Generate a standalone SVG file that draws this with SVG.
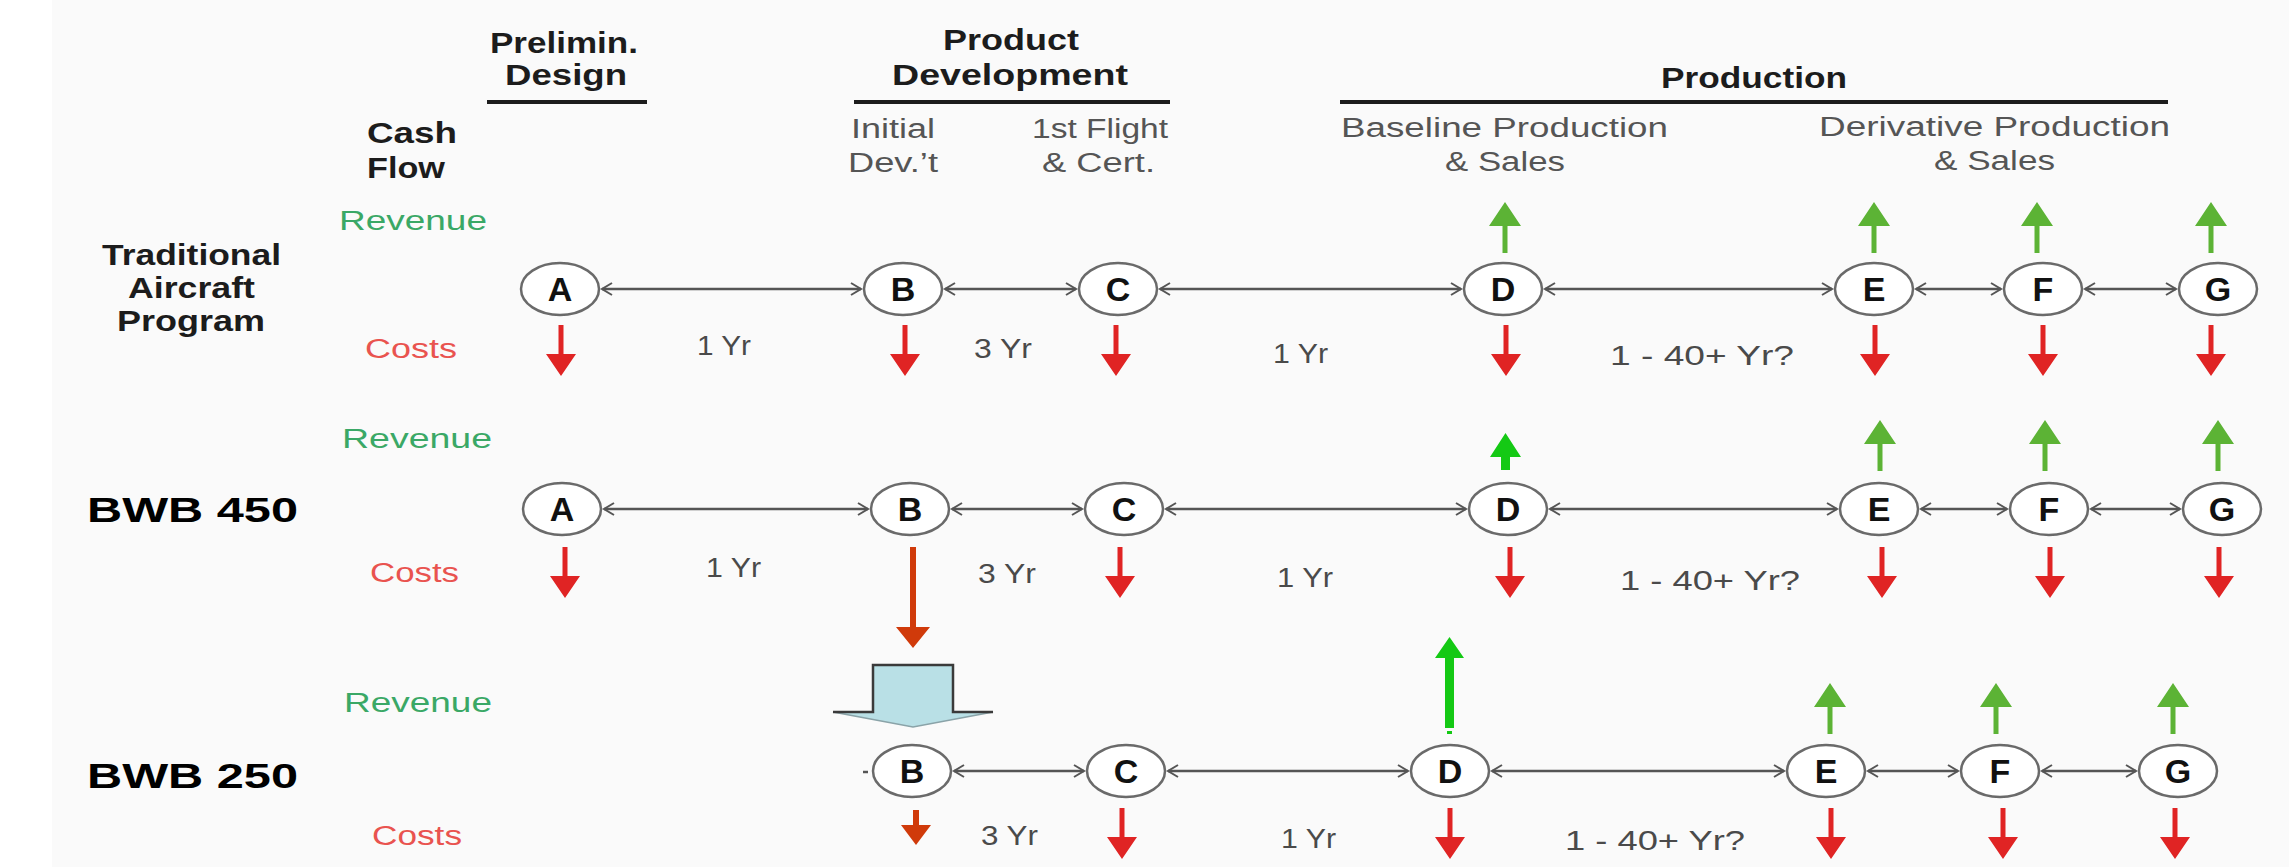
<svg xmlns="http://www.w3.org/2000/svg" width="2289" height="867" viewBox="0 0 2289 867">
  <style>
    text { font-family: "Liberation Sans", Arial, sans-serif; }
    .hd { font-weight: bold; font-size: 29px; fill: #1c1c1c; }
    .sub { font-size: 27px; fill: #555; }
    .rev { font-size: 27px; fill: #3aa866; }
    .cost { font-size: 27px; fill: #e9534f; }
    .yr { font-size: 27px; fill: #4a4a4a; }
    .bwb { font-weight: bold; font-size: 35px; fill: #000; }
    .node ellipse { fill: #fff; stroke: #6a6a6a; stroke-width: 2.5; }
    .node text { font-weight: bold; font-size: 34px; fill: #111; text-anchor: middle; }
    .conn line { stroke: #555; stroke-width: 2.5; marker-start: url(#chev); marker-end: url(#chev); }
    .rule { stroke: #1c1c1c; stroke-width: 4; }
    .down { fill: #e02424; }
    .downo { fill: #d03a0a; }
    .up { fill: #5cb335; }
    .upb { fill: #14c914; }
  </style>
  <defs>
    <marker id="chev" markerUnits="userSpaceOnUse" markerWidth="16" markerHeight="16" refX="12" refY="8" orient="auto-start-reverse">
      <path d="M2,2 L12,8 L2,14" fill="none" stroke="#555" stroke-width="2"/>
    </marker>
    <path id="dn" d="M-2.5 0H2.5V29H15L0 51L-15 29H-2.5Z"/>
    <path id="up" d="M-2.5 51H2.5V24H16L0 0L-16 24H-2.5Z"/>
  </defs>

  <rect width="2289" height="867" fill="#fff"/>
  <rect x="52" y="0" width="2237" height="867" fill="#fafafa"/>

  <!-- phase headings -->
  <g id="phases">
    <text class="hd" x="490" y="53" textLength="148" lengthAdjust="spacingAndGlyphs">Prelimin.</text>
    <text class="hd" x="505" y="85" textLength="122" lengthAdjust="spacingAndGlyphs">Design</text>
    <line class="rule" x1="487" y1="102" x2="647" y2="102"/>
    <text class="hd" x="943" y="50" textLength="136" lengthAdjust="spacingAndGlyphs">Product</text>
    <text class="hd" x="892" y="85" textLength="236" lengthAdjust="spacingAndGlyphs">Development</text>
    <line class="rule" x1="854" y1="102" x2="1170" y2="102"/>
    <text class="hd" x="1661" y="88" textLength="186" lengthAdjust="spacingAndGlyphs">Production</text>
    <line class="rule" x1="1340" y1="102" x2="2168" y2="102"/>
    <text class="sub" x="851" y="138" textLength="84" lengthAdjust="spacingAndGlyphs">Initial</text>
    <text class="sub" x="848" y="172" textLength="90" lengthAdjust="spacingAndGlyphs">Dev.’t</text>
    <text class="sub" x="1032" y="138" textLength="136" lengthAdjust="spacingAndGlyphs">1st Flight</text>
    <text class="sub" x="1042" y="172" textLength="113" lengthAdjust="spacingAndGlyphs">&amp; Cert.</text>
    <text class="sub" x="1341" y="137" textLength="327" lengthAdjust="spacingAndGlyphs">Baseline Production</text>
    <text class="sub" x="1445" y="171" textLength="120" lengthAdjust="spacingAndGlyphs">&amp; Sales</text>
    <text class="sub" x="1819" y="136" textLength="351" lengthAdjust="spacingAndGlyphs">Derivative Production</text>
    <text class="sub" x="1934" y="170" textLength="121" lengthAdjust="spacingAndGlyphs">&amp; Sales</text>
  </g>

  <!-- row titles and cash-flow labels -->
  <g id="labels">
    <text class="hd" x="367" y="143" textLength="90" lengthAdjust="spacingAndGlyphs">Cash</text>
    <text class="hd" x="367" y="178" textLength="78" lengthAdjust="spacingAndGlyphs">Flow</text>
    <text class="hd" x="102" y="265" textLength="179" lengthAdjust="spacingAndGlyphs" font-size="27">Traditional</text>
    <text class="hd" x="128" y="298" textLength="127" lengthAdjust="spacingAndGlyphs" font-size="27">Aircraft</text>
    <text class="hd" x="117" y="331" textLength="148" lengthAdjust="spacingAndGlyphs" font-size="27">Program</text>
    <text class="bwb" x="87" y="522" textLength="211" lengthAdjust="spacingAndGlyphs">BWB 450</text>
    <text class="bwb" x="87" y="788" textLength="211" lengthAdjust="spacingAndGlyphs">BWB 250</text>
    <text class="rev" x="339" y="230" textLength="148" lengthAdjust="spacingAndGlyphs">Revenue</text>
    <text class="rev" x="342" y="448" textLength="150" lengthAdjust="spacingAndGlyphs">Revenue</text>
    <text class="rev" x="344" y="712" textLength="148" lengthAdjust="spacingAndGlyphs">Revenue</text>
    <text class="cost" x="365" y="358" textLength="92" lengthAdjust="spacingAndGlyphs">Costs</text>
    <text class="cost" x="370" y="582" textLength="89" lengthAdjust="spacingAndGlyphs">Costs</text>
    <text class="cost" x="372" y="845" textLength="90" lengthAdjust="spacingAndGlyphs">Costs</text>
  </g>

  <!-- durations between milestones -->
  <g id="durations">
    <text class="yr" x="697" y="355" textLength="54" lengthAdjust="spacingAndGlyphs">1 Yr</text>
    <text class="yr" x="974" y="358" textLength="58" lengthAdjust="spacingAndGlyphs">3 Yr</text>
    <text class="yr" x="1273" y="363" textLength="55" lengthAdjust="spacingAndGlyphs">1 Yr</text>
    <text class="yr" x="1610" y="365" textLength="184" lengthAdjust="spacingAndGlyphs">1 - 40+ Yr?</text>
    <text class="yr" x="706" y="577" textLength="55" lengthAdjust="spacingAndGlyphs">1 Yr</text>
    <text class="yr" x="978" y="583" textLength="58" lengthAdjust="spacingAndGlyphs">3 Yr</text>
    <text class="yr" x="1277" y="587" textLength="56" lengthAdjust="spacingAndGlyphs">1 Yr</text>
    <text class="yr" x="1620" y="590" textLength="180" lengthAdjust="spacingAndGlyphs">1 - 40+ Yr?</text>
    <text class="yr" x="981" y="845" textLength="57" lengthAdjust="spacingAndGlyphs">3 Yr</text>
    <text class="yr" x="1281" y="848" textLength="55" lengthAdjust="spacingAndGlyphs">1 Yr</text>
    <text class="yr" x="1565" y="850" textLength="180" lengthAdjust="spacingAndGlyphs">1 - 40+ Yr?</text>
  </g>

  <!-- timeline connectors -->
  <g id="connectors" class="conn">
    <line x1="602" y1="289" x2="861" y2="289"/>
    <line x1="945" y1="289" x2="1076" y2="289"/>
    <line x1="1160" y1="289" x2="1461" y2="289"/>
    <line x1="1545" y1="289" x2="1832" y2="289"/>
    <line x1="1916" y1="289" x2="2001" y2="289"/>
    <line x1="2085" y1="289" x2="2176" y2="289"/>

    <line x1="604" y1="509" x2="868" y2="509"/>
    <line x1="952" y1="509" x2="1082" y2="509"/>
    <line x1="1166" y1="509" x2="1466" y2="509"/>
    <line x1="1550" y1="509" x2="1837" y2="509"/>
    <line x1="1921" y1="509" x2="2007" y2="509"/>
    <line x1="2091" y1="509" x2="2180" y2="509"/>

    <line x1="954" y1="771" x2="1084" y2="771"/>
    <line x1="1168" y1="771" x2="1408" y2="771"/>
    <line x1="1492" y1="771" x2="1784" y2="771"/>
    <line x1="1868" y1="771" x2="1958" y2="771"/>
    <line x1="2042" y1="771" x2="2136" y2="771"/>
    <line x1="863" y1="772" x2="868" y2="772" style="marker-start:none;marker-end:none"/>
  </g>

  <!-- milestones: traditional programme -->
  <g id="t-A" class="node"><ellipse cx="560" cy="289" rx="39" ry="26"/><text x="560" y="301">A</text></g>
  <g id="t-B" class="node"><ellipse cx="903" cy="289" rx="39" ry="26"/><text x="903" y="301">B</text></g>
  <g id="t-C" class="node"><ellipse cx="1118" cy="289" rx="39" ry="26"/><text x="1118" y="301">C</text></g>
  <g id="t-D" class="node"><ellipse cx="1503" cy="289" rx="39" ry="26"/><text x="1503" y="301">D</text></g>
  <g id="t-E" class="node"><ellipse cx="1874" cy="289" rx="39" ry="26"/><text x="1874" y="301">E</text></g>
  <g id="t-F" class="node"><ellipse cx="2043" cy="289" rx="39" ry="26"/><text x="2043" y="301">F</text></g>
  <g id="t-G" class="node"><ellipse cx="2218" cy="289" rx="39" ry="26"/><text x="2218" y="301">G</text></g>

  <!-- milestones: BWB 450 -->
  <g id="b450-A" class="node"><ellipse cx="562" cy="509" rx="39" ry="26"/><text x="562" y="521">A</text></g>
  <g id="b450-B" class="node"><ellipse cx="910" cy="509" rx="39" ry="26"/><text x="910" y="521">B</text></g>
  <g id="b450-C" class="node"><ellipse cx="1124" cy="509" rx="39" ry="26"/><text x="1124" y="521">C</text></g>
  <g id="b450-D" class="node"><ellipse cx="1508" cy="509" rx="39" ry="26"/><text x="1508" y="521">D</text></g>
  <g id="b450-E" class="node"><ellipse cx="1879" cy="509" rx="39" ry="26"/><text x="1879" y="521">E</text></g>
  <g id="b450-F" class="node"><ellipse cx="2049" cy="509" rx="39" ry="26"/><text x="2049" y="521">F</text></g>
  <g id="b450-G" class="node"><ellipse cx="2222" cy="509" rx="39" ry="26"/><text x="2222" y="521">G</text></g>

  <!-- milestones: BWB 250 -->
  <g id="b250-B" class="node"><ellipse cx="912" cy="771" rx="39" ry="26"/><text x="912" y="783">B</text></g>
  <g id="b250-C" class="node"><ellipse cx="1126" cy="771" rx="39" ry="26"/><text x="1126" y="783">C</text></g>
  <g id="b250-D" class="node"><ellipse cx="1450" cy="771" rx="39" ry="26"/><text x="1450" y="783">D</text></g>
  <g id="b250-E" class="node"><ellipse cx="1826" cy="771" rx="39" ry="26"/><text x="1826" y="783">E</text></g>
  <g id="b250-F" class="node"><ellipse cx="2000" cy="771" rx="39" ry="26"/><text x="2000" y="783">F</text></g>
  <g id="b250-G" class="node"><ellipse cx="2178" cy="771" rx="39" ry="26"/><text x="2178" y="783">G</text></g>

  <!-- cash-flow arrows -->
  <g id="cashflow">
    <use href="#dn" class="down" transform="translate(561,325)"/>
    <use href="#dn" class="down" transform="translate(905,325)"/>
    <use href="#dn" class="down" transform="translate(1116,325)"/>
    <use href="#dn" class="down" transform="translate(1506,325)"/>
    <use href="#dn" class="down" transform="translate(1875,325)"/>
    <use href="#dn" class="down" transform="translate(2043,325)"/>
    <use href="#dn" class="down" transform="translate(2211,325)"/>
    <use href="#up" class="up" transform="translate(1505,202)"/>
    <use href="#up" class="up" transform="translate(1874,202)"/>
    <use href="#up" class="up" transform="translate(2037,202)"/>
    <use href="#up" class="up" transform="translate(2211,202)"/>

    <use href="#dn" class="down" transform="translate(565,547)"/>
    <path class="downo" d="M910 547H916V627H930L913 648L896 627H910Z"/>
    <use href="#dn" class="down" transform="translate(1120,547)"/>
    <use href="#dn" class="down" transform="translate(1510,547)"/>
    <use href="#dn" class="down" transform="translate(1882,547)"/>
    <use href="#dn" class="down" transform="translate(2050,547)"/>
    <use href="#dn" class="down" transform="translate(2219,547)"/>
    <path class="upb" d="M1501 470H1510V457H1521L1505.5 433L1490 457H1501Z"/>
    <use href="#up" class="up" transform="translate(1880,420)"/>
    <use href="#up" class="up" transform="translate(2045,420)"/>
    <use href="#up" class="up" transform="translate(2218,420)"/>

    <path class="downo" d="M913 810H919V825H931L916 845L901 825H913Z"/>
    <use href="#dn" class="down" transform="translate(1122,808)"/>
    <use href="#dn" class="down" transform="translate(1450,808)"/>
    <use href="#dn" class="down" transform="translate(1831,808)"/>
    <use href="#dn" class="down" transform="translate(2003,808)"/>
    <use href="#dn" class="down" transform="translate(2175,808)"/>
    <path class="upb" d="M1445 728H1454V658H1464L1449.5 637L1435 658H1445Z"/>
    <rect class="upb" x="1447" y="731" width="5" height="3"/>
    <use href="#up" class="up" transform="translate(1830,683)"/>
    <use href="#up" class="up" transform="translate(1996,683)"/>
    <use href="#up" class="up" transform="translate(2173,683)"/>
  </g>

  <!-- block arrow from BWB 450 to BWB 250 -->
  <g id="shift">
    <polygon points="873,665 953,665 953,712 993,712 913,727 833,712 873,712" fill="#b9e0e6" stroke="#8aa3a8" stroke-width="1.5"/>
    <polyline points="833,712 873,712 873,665 953,665 953,712 993,712" fill="none" stroke="#3a3a3a" stroke-width="2.5"/>
  </g>
</svg>
